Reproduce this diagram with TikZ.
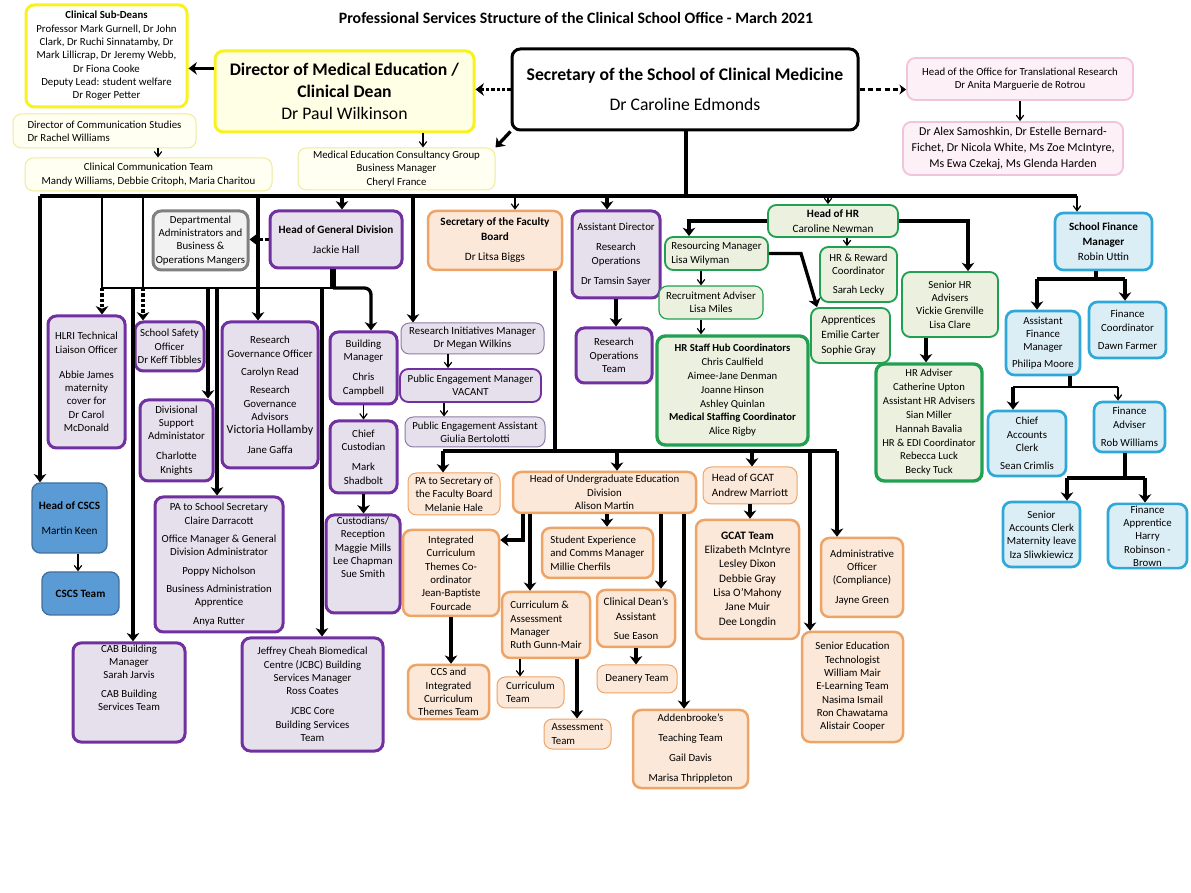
\documentclass[tikz,border=0pt]{standalone}
\usepackage{fontspec}
\setmainfont{Carlito}
\usetikzlibrary{arrows.meta,positioning,calc}
\definecolor{purp}    {HTML}{7030A0}
\definecolor{purpLt}  {HTML}{E6E0EC}
\definecolor{purpGr}  {HTML}{8E7CA8}
\definecolor{orng}    {HTML}{EEA466}
\definecolor{orngLt}  {HTML}{FCE8D8}
\definecolor{grn}     {HTML}{20A050}
\definecolor{grnLt}   {HTML}{EBF1DE}
\definecolor{aqua}    {HTML}{2DA8D8}
\definecolor{aquaLt}  {HTML}{DCEEF5}
\definecolor{cscsB}   {HTML}{5B9BD5}
\definecolor{cscsD}   {HTML}{41719C}
\definecolor{yel}     {HTML}{F8F220}
\definecolor{yelLt}   {HTML}{FFFFE6}
\definecolor{yelPale} {HTML}{FFFFF2}
\definecolor{yelRule} {HTML}{F0EA9A}
\definecolor{pnk}     {HTML}{F0C4DA}
\definecolor{pnkLt}   {HTML}{FDF0F6}
\definecolor{gry}     {HTML}{808080}
\definecolor{gryLt}   {HTML}{F2F2F2}

\newcommand\fs{\fontsize{6.5}{8}\selectfont}
\newcommand\fm{\fontsize{6.7}{9}\selectfont}
\newcommand\fbig{\fontsize{7.2}{9}\selectfont}
\newcommand\fhead{\fontsize{10.6}{13}\selectfont}
\newcommand\fteam{\fontsize{7.2}{9.6}\selectfont}
\newcommand\fgcat{\fontsize{6.8}{8.6}\selectfont}
\newcommand\fhub{\fontsize{6.4}{8.3}\selectfont}
% box from its corners (x1,y1,x2,y2) in picture units
\newcommand\bx[7]{%
  \pgfmathsetmacro\bxw{(#5-#3)*0.6}%
  \pgfmathsetmacro\bxh{(#6-#4)*0.6}%
  \node[#2, minimum width=\bxw pt, minimum height=\bxh pt] (#1) at ({(#3+#5)/2},{(#4+#6)/2}) {#7};}

\tikzset{
  unit/.style={rounded corners=5pt, align=center, font=\fs, inner sep=1pt},
  purpbox/.style={unit, draw=purp, fill=purpLt, line width=1.8pt},
  purpmid/.style={unit, draw=purp, fill=purpLt, line width=1.1pt},
  purpthin/.style={unit, draw=purpGr, fill=purpLt, line width=0.6pt},
  orngbox/.style={unit, draw=orng, fill=orngLt, line width=1.5pt},
  orngthin/.style={unit, draw=orng, fill=orngLt, line width=0.6pt},
  grnbox/.style={unit, draw=grn, fill=grnLt, line width=1.1pt},
  grnthick/.style={unit, draw=grn, fill=grnLt, line width=2pt},
  finbox/.style={unit, draw=aqua, fill=aquaLt, line width=1.6pt},
  cscsbox/.style={unit, draw=cscsD, fill=cscsB, line width=0.8pt},
  yelbox/.style={unit, draw=yel, line width=1.8pt},
  yelpale/.style={unit, draw=yelRule, fill=yelPale, line width=0.6pt},
  pnkbox/.style={unit, draw=pnk, fill=pnkLt, line width=1.1pt},
  grybox/.style={unit, draw=gry, fill=gryLt, line width=1.8pt},
  bar/.style={line width=2pt},
  wire/.style={line width=0.8pt},
  link/.style={line width=0.7pt, -{Straight Barb[length=3pt,width=4.5pt]}},
  heavy/.style={line width=2pt, -{Stealth[length=5pt,width=7.5pt,inset=1.5pt]}},
  dotty/.style={dash pattern=on 2pt off 1.2pt},
}

\begin{document}
\begin{tikzpicture}[x=0.6pt, y=-0.6pt]
 \fill[white] (0,0) rectangle (1191,893);
 \useasboundingbox (0,0) rectangle (1191,893);

 \node[font=\bfseries\fontsize{9.5}{11}\selectfont] (title) at (576,18)
   {Professional Services Structure of the Clinical School Office - March 2021};

 % columns and bus rows
 \foreach \c in {40,78,102,133,143,158,208,217,258,322,333,342,371,413,423,443,444,448,
                 515,520,523,530,555,577,607,617,661,684,686,689,701,752,801,810,817,
                 828,837,847,926,968,1013,1037,1067,1070,1077,1096,1118,1125,1145}
   \coordinate (x\c) at (\c,0);
 \coordinate (mainbus) at (0,196);
 \coordinate (genbus)  at (0,288);
 \coordinate (facbus)  at (0,451);
 \coordinate (ugturn)  at (0,540);
 \coordinate (finbusA) at (0,279);
 \coordinate (finbusB) at (0,387);
 \coordinate (finbusC) at (0,478);

 % top row
 \bx{subdeans}{yelbox}{26}{5}{187}{107}{\textbf{Clinical Sub-Deans}\\Professor Mark Gurnell, Dr John\\
   Clark, Dr Ruchi Sinnatamby, Dr\\Mark Lillicrap, Dr Jeremy Webb,\\Dr Fiona Cooke\\
   Deputy Lead: student welfare\\Dr Roger Petter}
 \bx{dir}{yelbox, fill=yelLt, font=\fhead}{215}{51}{474}{132}{\textbf{Director of Medical Education /}\\\textbf{Clinical Dean}\\Dr Paul Wilkinson}
 \bx{sec}{unit, draw=black, line width=1.8pt, font=\fhead}{512}{49}{858}{130}{\textbf{Secretary of the School of Clinical Medicine}\\[5pt]Dr Caroline Edmonds}
 \bx{tor}{pnkbox}{907}{58}{1133}{100}{Head of the Office for Translational Research\\Dr Anita Marguerie de Rotrou}
 \bx{torteam}{pnkbox, font=\fteam}{903}{122}{1123}{175}{Dr Alex Samoshkin, Dr Estelle Bernard-\\Fichet, Dr Nicola White, Ms Zoe McIntyre,\\Ms Ewa Czekaj, Ms Glenda Harden}
 \bx{dircomm}{yelpale, align=left}{13}{114}{196}{148}{Director of Communication Studies\\Dr Rachel Williams}
 \bx{commteam}{yelpale}{25}{158}{272}{191}{Clinical Communication Team\\Mandy Williams, Debbie Critoph, Maria Charitou}
 \bx{mecg}{yelpale}{298}{148}{495}{190}{Medical Education Consultancy Group\\Business Manager\\Cheryl France}

 % second row
 \bx{dept}{grybox}{153}{211}{248}{270}{Departmental\\Administrators and\\Business \&\\Operations Mangers}
 \bx{hgd}{purpbox, font=\fm}{270}{211}{402}{268}{\textbf{Head of General Division}\\[3pt]Jackie Hall}
 \bx{fac}{orngbox, font=\fm}{428}{211}{562}{270}{\textbf{Secretary of the Faculty}\\\textbf{Board}\\[3pt]Dr Litsa Biggs}
 \bx{asstdir}{purpbox}{572}{211}{660}{298}{Assistant Director\\[4pt]Research\\Operations\\[4pt]Dr Tamsin Sayer}
 \bx{hhr}{grnbox, font=\fm}{768}{205}{898}{237}{\textbf{Head of HR}\\Caroline Newman}
 \bx{sfm}{finbox, font=\fm}{1055}{213}{1152}{270}{\textbf{School Finance}\\\textbf{Manager}\\Robin Uttin}

 % general division
 \bx{hlri}{purpbox}{48}{316}{125}{448}{HLRI Technical\\Liaison Officer\\[7pt]Abbie James\\maternity\\cover for\\Dr Carol\\McDonald}
 \bx{safety}{purpbox}{135}{322}{204}{371}{School Safety\\Officer\\Dr Keff Tibbles}
 \bx{divsupp}{purpbox}{140}{400}{213}{481}{Divisional\\Support\\Administator\\[4pt]Charlotte\\Knights}
 \bx{rgo}{purpbox}{222}{322}{318}{468}{Research\\Governance Officer\\[3pt]Carolyn Read\\[3pt]Research\\Governance\\Advisors\\\fbig Victoria Hollamby\\[4pt]Jane Gaffa}
 \bx{bldg}{purpbox}{330}{332}{397}{404}{Building\\Manager\\[4pt]Chris\\Campbell}
 \bx{chief}{purpbox}{330}{421}{397}{493}{Chief\\Custodian\\[4pt]Mark\\Shadbolt}
 \bx{cust}{purpbox}{326}{515}{400}{613}{Custodians/\\Reception\\Maggie Mills\\Lee Chapman\\Sue Smith\\[12pt]}
 \bx{rim}{purpthin}{401}{323}{544}{354}{Research Initiatives Manager\\Dr Megan Wilkins}
 \bx{pem}{purpmid}{400}{369}{541}{402}{Public Engagement Manager\\VACANT}
 \bx{pea}{purpthin}{405}{417}{545}{447}{Public Engagement Assistant\\Giulia Bertolotti}
 \bx{pass}{purpbox}{155}{497}{283}{632}{PA to School Secretary\\Claire Darracott\\[3pt]Office Manager \& General\\Division Administrator\\[3pt]Poppy Nicholson\\[3pt]Business Administration\\Apprentice\\[3pt]Anya Rutter}
 \bx{cab}{purpbox}{73}{643}{185}{742}{CAB Building\\Manager\\Sarah Jarvis\\[3pt]CAB Building\\Services Team\\[10pt]}
 \bx{jcbc}{purpbox}{242}{638}{383}{751}{Jeffrey Cheah Biomedical\\Centre (JCBC) Building\\Services Manager\\Ross Coates\\[4pt]JCBC Core\\Building Services\\Team}
 \bx{cscs}{cscsbox, font=\fm}{32}{483}{107}{553}{\textbf{Head of CSCS}\\[6pt]Martin Keen}
 \bx{cscsteam}{cscsbox, font=\fm}{42}{572}{119}{615}{\textbf{CSCS Team}}
 \bx{rot}{purpbox}{576}{328}{652}{383}{Research\\Operations\\Team}

 % faculty board
 \bx{pafb}{orngthin}{408}{473}{500}{515}{PA to Secretary of\\the Faculty Board\\Melanie Hale}
 \bx{hugd}{orngbox}{513}{472}{696}{513}{Head of Undergraduate Education\\Division\\Alison Martin}
 \bx{ictc}{orngbox}{403}{530}{499}{616}{Integrated\\Curriculum\\Themes Co-\\ordinator\\Jean-Baptiste\\Fourcade}
 \bx{ccs}{orngbox}{408}{665}{489}{719}{CCS and\\Integrated\\Curriculum\\Themes Team}
 \bx{stu}{orngbox, align=left}{542}{528}{653}{578}{Student Experience\\and Comms Manager\\Millie Cherfils}
 \bx{cam}{orngbox, align=left}{502}{592}{590}{658}{Curriculum \&\\Assessment\\Manager\\Ruth Gunn-Mair}
 \bx{curric}{orngthin, align=left}{497}{677}{564}{708}{Curriculum\\Team}
 \bx{assess}{orngthin, align=left}{544}{719}{611}{749}{Assessment\\Team}
 \bx{cda}{orngbox, font=\fm}{597}{590}{675}{647}{Clinical Dean's\\Assistant\\[2pt]\fs Sue Eason}
 \bx{dean}{orngthin}{597}{665}{677}{693}{Deanery Team}
 \bx{addb}{orngbox}{633}{710}{748}{788}{Addenbrooke's\\[4pt]Teaching Team\\[4pt]Gail Davis\\[4pt]Marisa Thrippleton}
 \bx{hgcat}{orngthin, align=left, font=\fm}{703}{467}{797}{504}{Head of GCAT\\Andrew Marriott}
 \bx{gcat}{orngbox, font=\fgcat}{696}{520}{799}{639}{\textbf{GCAT Team}\\Elizabeth McIntyre\\Lesley Dixon\\Debbie Gray\\Lisa O'Mahony\\Jane Muir\\Dee Longdin}
 \bx{admo}{orngbox}{821}{538}{903}{617}{Administrative\\Officer\\(Compliance)\\[4pt]Jayne Green}
 \bx{set}{orngbox}{802}{632}{903}{742}{Senior Education\\Technologist\\William Mair\\E-Learning Team\\Nasima Ismail\\Ron Chawatama\\Alistair Cooper}

 % human resources
 \bx{resm}{grnbox, align=left}{665}{237}{768}{270}{Resourcing Manager\\Lisa Wilyman}
 \bx{recad}{grnbox, line width=0.7pt}{659}{286}{763}{319}{Recruitment Adviser\\Lisa Miles}
 \bx{hub}{grnthick, font=\fhub}{657}{336}{808}{445}{\textbf{HR Staff Hub Coordinators}\\Chris Caulfield\\Aimee-Jane Denman\\Joanne Hinson\\Ashley Quinlan\\\textbf{Medical Staffing Coordinator}\\Alice Rigby}
 \bx{hrr}{grnbox}{820}{247}{897}{302}{HR \& Reward\\Coordinator\\[3pt]Sarah Lecky}
 \bx{appr}{grnbox, align=left, font=\fm}{811}{308}{890}{363}{Apprentices\\Emilie Carter\\Sophie Gray}
 \bx{shr}{grnbox}{902}{272}{998}{337}{Senior HR\\Advisers\\Vickie Grenville\\Lisa Clare}
 \bx{hradv}{grnthick, font=\fhub}{876}{364}{982}{481}{HR Adviser\\Catherine Upton\\Assistant HR Advisers\\Sian Miller\\Hannah Bavalia\\HR \& EDI Coordinator\\Rebecca Luck\\Becky Tuck}

 % finance
 \bx{afm}{finbox}{1006}{311}{1080}{375}{Assistant\\Finance\\Manager\\[2pt]Philipa Moore}
 \bx{fc}{finbox}{1089}{302}{1166}{358}{Finance\\Coordinator\\[3pt]Dawn Farmer}
 \bx{cac}{finbox}{988}{411}{1066}{476}{Chief\\Accounts\\Clerk\\[3pt]Sean Crimlis}
 \bx{fa}{finbox}{1094}{402}{1165}{452}{Finance\\Adviser\\[3pt]Rob Williams}
 \bx{sac}{finbox}{1003}{502}{1080}{567}{Senior\\Accounts Clerk\\Maternity leave\\Iza Sliwkiewicz}
 \bx{fapp}{finbox}{1108}{504}{1187}{568}{Finance\\Apprentice\\Harry\\Robinson -\\Brown}

 % links at the top
 \draw[heavy] (dir.170) -- (dir.170 -| subdeans.east);
 \draw[heavy, dotty] (sec.west) -- (sec.west -| dir.east);
 \draw[heavy] (sec.south west) -- (mecg.north east);
 \draw[line width=1.6pt, dash pattern=on 3pt off 2pt, -{Stealth[length=4pt,width=6pt]}] (sec.east) -- (sec.east -| tor.west);
 \draw[link] (tor.south) -- (tor.south |- torteam.north);
 \draw[link] (x158 |- dircomm.south) -- (x158 |- commteam.north);
 \draw[link] (x423 |- dir.south) -- (x423 |- mecg.north);

 % main bus
 \draw[bar] (x686 |- sec.south) -- (x686 |- mainbus);
 \draw[bar] (x40 |- mainbus) -- (x1077 |- mainbus);
 \draw[heavy] (x40 |- mainbus) -- (x40 |- cscs.north);
 \draw[heavy] (x258 |- mainbus) -- (x258 |- rgo.north);
 \draw[heavy] (x342 |- mainbus) -- (x342 |- hgd.north);
 \draw[heavy] (x413 |- mainbus) -- (x413 |- rim.north);
 \draw[link] (x515 |- mainbus) -- (x515 |- fac.north);
 \draw[heavy] (x607 |- mainbus) -- (x607 |- asstdir.north);
 \draw[link] (x828 |- mainbus) -- (x828 |- hhr.north);
 \draw[link] (x1077 |- mainbus) -- (x1077 |- sfm.north);
 \draw[wire] (x102 |- mainbus) -- (x102 |- genbus);
 \draw[wire] (x143 |- mainbus) -- (x143 |- genbus);
 \draw[heavy, dotty] (x102 |- genbus) -- (x102 |- hlri.north);
 \draw[heavy, dotty] (x143 |- genbus) -- (x143 |- safety.north);
 \draw[heavy, dotty] (hgd.west) -- (hgd.west -| dept.east);

 % general division
 \draw[line width=3.5pt] (x333 |- hgd.south) -- (x333 |- genbus);
 \draw[wire] (x102 |- genbus) -- (x333 |- genbus);
 \draw[heavy, rounded corners=4pt] (x333 |- genbus) -- (x371 |- genbus) -- (x371 |- bldg.north);
 \draw[heavy] (x133 |- genbus) -- (x133 |- cab.north);
 \draw[heavy] (x208 |- genbus) -- (x208 |- divsupp.north);
 \draw[heavy] (x217 |- genbus) -- (x217 |- pass.north);
 \draw[heavy] (x322 |- genbus) -- (x322 |- jcbc.north);
 \draw[link] (bldg.south) -- (bldg.south |- chief.north);
 \draw[heavy] (chief.south) -- (chief.south |- cust.north);
 \draw[link] (x448 |- rim.south) -- (x448 |- pem.north);
 \draw[link] (x444 |- pem.south) -- (x444 |- pea.north);
 \draw[heavy] (asstdir.south) -- (asstdir.south |- rot.north);
 \draw[link] (x78 |- cscs.south) -- (x78 |- cscsteam.north);

 % faculty board
 \draw[bar] (x555 |- fac.south) -- (x555 |- facbus);
 \draw[bar] (x443 |- facbus) -- (x837 |- facbus);
 \draw[heavy] (x443 |- facbus) -- (x443 |- pafb.north);
 \draw[heavy] (x617 |- facbus) -- (x617 |- hugd.north);
 \draw[heavy] (x752 |- facbus) -- (x752 |- hgcat.north);
 \draw[heavy] (x810 |- facbus) -- (x810 |- set.north);
 \draw[heavy] (x837 |- facbus) -- (x837 |- admo.north);
 \draw[heavy] (x523 |- hugd.south) |- (ugturn -| ictc.east);
 \draw[heavy] (x530 |- hugd.south) -- (x530 |- cam.north);
 \draw[heavy] (x607 |- hugd.south) -- (x607 |- stu.north);
 \draw[heavy] (x661 |- hugd.south) -- (x661 |- cda.north);
 \draw[heavy] (x684 |- hugd.south) -- (x684 |- addb.north);
 \draw[heavy] (ictc.south) -- (ictc.south |- ccs.north);
 \draw[link] (x520 |- cam.south) -- (x520 |- curric.north);
 \draw[heavy] (x577 |- cam.south) -- (x577 |- assess.north);
 \draw[heavy] (cda.south) -- (cda.south |- dean.north);
 \draw[heavy] (hgcat.south) -- (hgcat.south |- gcat.north);

 % human resources
 \draw[heavy] (hhr.west) -| (x689 |- resm.north);
 \draw[heavy] (hhr.east) -| (x968 |- shr.north);
 \draw[link] (x847 |- hhr.south) -- (x847 |- hrr.north);
 \draw[heavy] (resm.east) -- (x801 |- resm.east) -- (x817 |- appr.north);
 \draw[link] (x701 |- resm.south) -- (x701 |- recad.north);
 \draw[link] (x701 |- recad.south) -- (x701 |- hub.north);
 \draw[heavy] (x926 |- shr.south) -- (x926 |- hradv.north);

 % finance
 \draw[bar] (x1096 |- sfm.south) -- (x1096 |- finbusA);
 \draw[bar] (x1037 |- finbusA) -- (x1125 |- finbusA);
 \draw[heavy] (x1037 |- finbusA) -- (x1037 |- afm.north);
 \draw[heavy] (x1125 |- finbusA) -- (x1125 |- fc.north);
 \draw[bar] (x1070 |- afm.south) -- (x1070 |- finbusB);
 \draw[line width=1.4pt] (x1013 |- finbusB) -- (x1118 |- finbusB);
 \draw[heavy] (x1013 |- finbusB) -- (x1013 |- cac.north);
 \draw[link] (x1118 |- finbusB) -- (x1118 |- fa.north);
 \draw[bar] (x1125 |- fa.south) -- (x1125 |- finbusC);
 \draw[bar] (x1067 |- finbusC) -- (x1145 |- finbusC);
 \draw[heavy] (x1067 |- finbusC) -- (x1067 |- sac.north);
 \draw[heavy] (x1145 |- finbusC) -- (x1145 |- fapp.north);
\end{tikzpicture}
\end{document}
